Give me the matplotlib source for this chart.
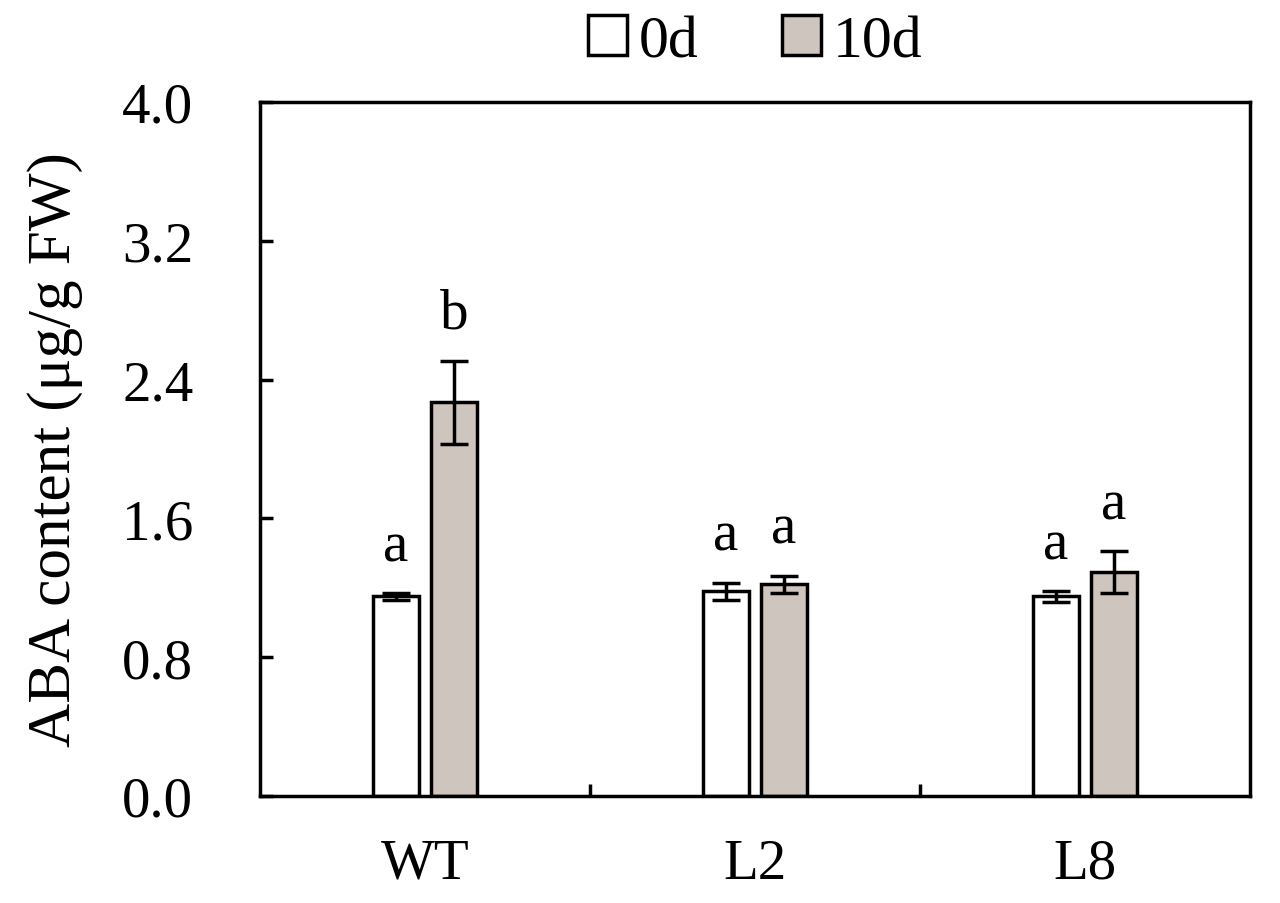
import numpy as np
import matplotlib
matplotlib.use("Agg")
import matplotlib.pyplot as plt
from matplotlib.ticker import FixedLocator, NullFormatter

groups = ["WT", "L2", "L8"]
series = ["0d", "10d"]
values_0d = [1.15, 1.18, 1.15]
values_10d = [2.27, 1.22, 1.29]
err_0d = [0.02, 0.05, 0.03]
err_10d = [0.24, 0.05, 0.12]
letters_0d = ["a", "a", "a"]
letters_10d = ["b", "a", "a"]
yticks = [0.0, 0.8, 1.6, 2.4, 3.2, 4.0]

plt.rcParams["font.family"] = ["Liberation Serif", "DejaVu Serif"]

FS = 41
fig = plt.figure(figsize=(12.8, 9.04), dpi=100)
ax = fig.add_axes([260 / 1280, 1 - 797 / 904, 990 / 1280, 694 / 904])

x = np.arange(len(groups))
w = 0.14
off = 0.088
fills = ["white", "#cec5bf"]
lw = 2.5
for i, (vals, errs, lets) in enumerate([(values_0d, err_0d, letters_0d),
                                         (values_10d, err_10d, letters_10d)]):
    xs = x + (2 * i - 1) * off
    ax.bar(xs, vals, width=w, color=fills[i], edgecolor="black", linewidth=lw,
           label=series[i], zorder=2)
    ax.errorbar(xs, vals, yerr=errs, fmt="none", ecolor="black", elinewidth=lw,
                capsize=10, capthick=lw, zorder=3)
    for xi, v, e, t in zip(xs, vals, errs, lets):
        ax.text(xi, v + e + 0.19, t, ha="center", va="baseline", fontsize=FS)

ax.set_xlim(-0.5, 2.5)
ax.set_ylim(0, 4.0)
ax.set_yticks(yticks)
ax.set_yticklabels([f"{t:.1f}" for t in yticks])
ax.set_xticks(x)
ax.set_xticklabels(groups)
ax.xaxis.set_minor_locator(FixedLocator([0.5, 1.5]))
ax.xaxis.set_minor_formatter(NullFormatter())
ax.tick_params(axis="x", which="major", length=0, pad=30, labelsize=FS)
ax.tick_params(axis="x", which="minor", direction="in", length=9, width=lw)
ax.tick_params(axis="y", direction="in", length=9, width=lw, pad=48, labelsize=FS)
for sp in ax.spines.values():
    sp.set_linewidth(lw)

ax.set_ylabel("ABA content (μg/g FW)", fontsize=44, labelpad=28)

ax.legend(loc="lower center", bbox_to_anchor=(0.5, 1.0), ncol=2, frameon=False,
          fontsize=43, handlelength=0.65, handleheight=0.65, handletextpad=0.2,
          columnspacing=1.4, borderaxespad=0.15)

fig.savefig("out.png", dpi=100)
